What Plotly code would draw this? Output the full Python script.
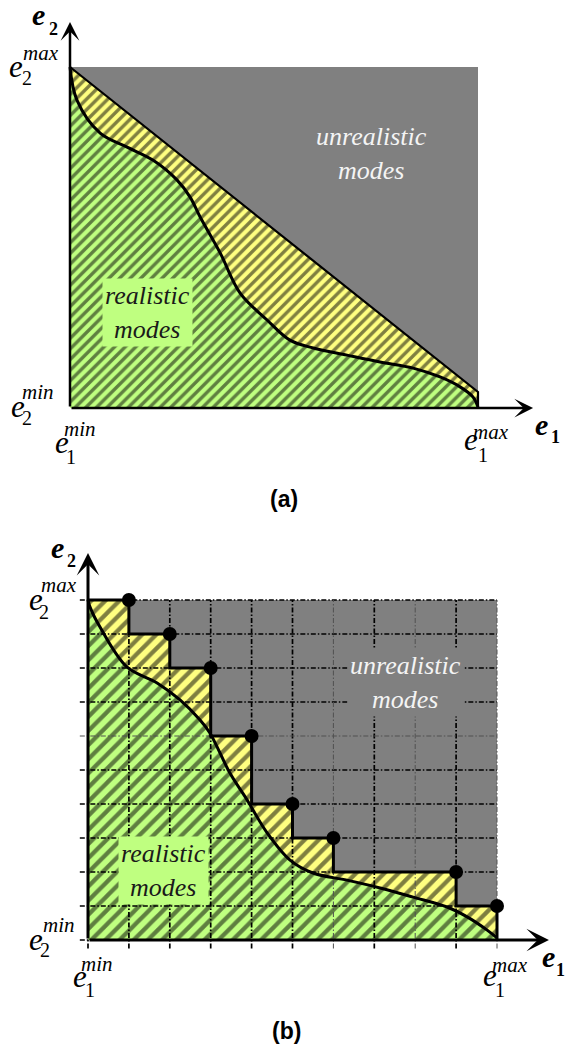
import plotly.graph_objects as go

OFF = 8                    # default body margin of the html page
PW, PH = 574, 1048         # page (window) size
W, H = PW, PH              # figure size (overflow beyond the window is simply not shown)
SERIF = "Liberation Serif"
SANS = "Liberation Sans"
GRAY = "#808080"
YELLOW = "#ffff80"
GREEN = "#bfff80"

# ---------------- data: panel (a)  (normalised e1, e2) ----------------
a_front_x = [0.0, 1.0, 1.0]
a_front_y = [1.0, 0.047, 0.0]
a_curve_x = [0.0, 0.017, 0.074, 0.140, 0.203, 0.262, 0.294, 0.319, 0.368, 0.417,
             0.483, 0.539, 0.596, 0.679, 0.760, 0.841, 0.907, 0.956, 0.988, 1.0]
a_curve_y = [1.0, 0.903, 0.806, 0.765, 0.727, 0.669, 0.619, 0.560, 0.455, 0.337,
             0.258, 0.199, 0.176, 0.155, 0.135, 0.117, 0.091, 0.062, 0.032, 0.003]

# ---------------- data: panel (b)  (grid units) ----------------
b_points_x = [1, 2, 3, 4, 5, 6, 9, 10]
b_points_y = [10, 9, 8, 6, 4, 3, 2, 1]
b_curve_x = [0.0, 0.05, 0.29, 0.95, 1.69, 2.25, 2.74, 2.98, 3.47, 3.89, 4.38, 4.94,
             5.50, 6.33, 7.14, 7.95, 8.78, 9.27, 9.76, 10.0]
b_curve_y = [10.0, 9.79, 9.21, 8.03, 7.56, 7.06, 6.47, 6.09, 4.91, 4.12, 3.15, 2.35,
             1.97, 1.76, 1.53, 1.26, 0.97, 0.68, 0.29, 0.06]
b_grid = list(range(0, 11))
b_grid_gray_x = [6, 8, 10]
b_grid_gray_y = [6]


# ---------------- axis geometry helpers (layout, page pixels) ----------------
def xaxis_cfg(px0, px1, v0, v1):
    px0 -= OFF
    px1 -= OFF
    s = (px1 - px0) / (v1 - v0)
    return dict(domain=[0, 1], range=[v0 + (0 - px0) / s, v0 + (W - px0) / s],
                visible=False, fixedrange=True)


def yaxis_cfg(py0, py1, v0, v1, top, bottom):
    py0 -= OFF
    py1 -= OFF
    top = max(top - OFF, 0)
    bottom = min(bottom - OFF, H)
    s = (py0 - py1) / (v1 - v0)
    return dict(domain=[1 - bottom / H, 1 - top / H],
                range=[v0 - (bottom - py0) / s, v0 + (py0 - top) / s],
                visible=False, fixedrange=True)


fig = go.Figure()

# ---------------- panel (a) ----------------
fig.add_shape(type="rect", x0=0, x1=1, y0=0, y1=1, xref="x", yref="y",
              fillcolor=GRAY, line_width=0, layer="below")
fig.add_trace(go.Scatter(
    x=a_front_x + [0.0], y=a_front_y + [0.0], fill="toself", mode="none",
    fillcolor=YELLOW,
    fillpattern=dict(shape="/", fgcolor="black", bgcolor=YELLOW, size=7.5, solidity=0.45),
    xaxis="x", yaxis="y", hoverinfo="skip"))
fig.add_trace(go.Scatter(
    x=a_curve_x, y=a_curve_y, fill="tozeroy", mode="none", line_shape="spline",
    fillcolor=GREEN,
    fillpattern=dict(shape="/", fgcolor="black", bgcolor=GREEN, size=7.5, solidity=0.45),
    xaxis="x", yaxis="y", hoverinfo="skip"))
fig.add_trace(go.Scatter(x=a_front_x, y=a_front_y, mode="lines",
                         line=dict(color="black", width=2.2), xaxis="x", yaxis="y",
                         hoverinfo="skip"))
fig.add_trace(go.Scatter(x=a_curve_x, y=a_curve_y, mode="lines",
                         line=dict(color="black", width=3, shape="spline"),
                         xaxis="x", yaxis="y", hoverinfo="skip"))

# ---------------- panel (b) ----------------
fig.add_shape(type="rect", x0=0, x1=10, y0=0, y1=10, xref="x2", yref="y2",
              fillcolor=GRAY, line_width=0, layer="below")

step_x, step_y = [0], [b_points_y[0]]
for i, (px, py) in enumerate(zip(b_points_x, b_points_y)):
    nxt = b_points_y[i + 1] if i + 1 < len(b_points_y) else 0
    step_x += [px, px]
    step_y += [py, nxt]

fig.add_trace(go.Scatter(
    x=step_x + [0], y=step_y + [0], fill="toself", mode="none", fillcolor=YELLOW,
    fillpattern=dict(shape="/", fgcolor="black", bgcolor=YELLOW, size=10, solidity=0.42),
    xaxis="x2", yaxis="y2", hoverinfo="skip"))
fig.add_trace(go.Scatter(
    x=b_curve_x, y=b_curve_y, fill="tozeroy", mode="none", line_shape="spline",
    fillcolor=GREEN,
    fillpattern=dict(shape="/", fgcolor="black", bgcolor=GREEN, size=10, solidity=0.42),
    xaxis="x2", yaxis="y2", hoverinfo="skip"))


def grid_xy(xs, ys):
    gx, gy = [], []
    for v in xs:
        gx += [v, v, None]
        gy += [-0.25, 10, None]
    for v in ys:
        gx += [-0.2, 10, None]
        gy += [v, v, None]
    return gx, gy


gx, gy = grid_xy([v for v in b_grid if v not in b_grid_gray_x],
                 [v for v in b_grid if v not in b_grid_gray_y])
fig.add_trace(go.Scatter(x=gx, y=gy, mode="lines",
                         line=dict(color="black", width=1.7, dash="5px,2px,1.5px,2px"),
                         xaxis="x2", yaxis="y2", hoverinfo="skip"))
gx, gy = grid_xy(b_grid_gray_x, b_grid_gray_y)
fig.add_trace(go.Scatter(x=gx, y=gy, mode="lines",
                         line=dict(color="#505050", width=1, dash="5px,2px,1.5px,2px"),
                         xaxis="x2", yaxis="y2", hoverinfo="skip"))

fig.add_trace(go.Scatter(x=step_x, y=step_y, mode="lines",
                         line=dict(color="black", width=3),
                         xaxis="x2", yaxis="y2", hoverinfo="skip"))
fig.add_trace(go.Scatter(x=b_curve_x, y=b_curve_y, mode="lines",
                         line=dict(color="black", width=3, shape="spline"),
                         xaxis="x2", yaxis="y2", hoverinfo="skip"))
fig.add_trace(go.Scatter(x=b_points_x, y=b_points_y, mode="markers",
                         marker=dict(color="black", size=14),
                         xaxis="x2", yaxis="y2", hoverinfo="skip"))


# ---------------- axes arrows ----------------
def arrow(xr, yr, x, y, w):
    return dict(x=x, y=y, ax=0, ay=0, xref=xr, yref=yr, axref=xr, ayref=yr,
                showarrow=True, arrowhead=3, arrowsize=1.25, arrowwidth=w,
                arrowcolor="black", text="", standoff=0, startstandoff=0)


anns = [
    arrow("x", "y", 0, 1.132, 2.5), arrow("x", "y", 1.135, 0, 2.5),
    arrow("x2", "y2", 0, 11.38, 3), arrow("x2", "y2", 11.27, 0, 3),
]


# ---------------- text labels (page pixel placement) ----------------
def lab(text, px, py, size, family=SERIF, color="black", bg=None, xh=False):
    if xh:
        py -= 0.11 * size
    px -= OFF
    py -= OFF
    d = dict(text=text, x=px / W, y=1 - py / H, xref="paper", yref="paper",
             showarrow=False, xanchor="center", yanchor="middle",
             font=dict(family=family, size=size, color=color))
    if bg:
        d.update(bgcolor=bg, borderpad=2)
    return d


E = 31
SUB = 20
SUP = 21
labels = [
    ((16, 70), ("2", 26.5, 78), ("max", 41, 55)),
    ((18, 410), ("2", 27, 418), ("min", 38, 394)),
    ((62, 446), ("1", 71, 457), ("min", 80, 431)),
    ((471, 443), ("1", 483, 455), ("max", 491, 434)),
    ((36, 603), ("2", 44, 612), ("max", 59, 587)),
    ((36, 943), ("2", 45, 950), ("min", 59, 927)),
    ((80, 980), ("1", 90, 990), ("min", 97, 966)),
    ((490, 979), ("1", 500, 990), ("max", 510, 967)),
]
for (ex, ey), (st, sx, sy), (pt, qx, qy) in labels:
    anns.append(lab("<i>e</i>", ex, ey, E, xh=True))
    anns.append(lab(st, sx, sy, SUB))
    anns.append(lab("<i>" + pt + "</i>", qx, qy, SUP, xh=True))

axis_labels = [((38.5, 18), ("2", 53, 29)), ((541, 428), ("1", 555, 437)),
               ((548, 960), ("1", 560, 970)), ((57, 551), ("2", 71, 561))]
for (ex, ey), (st, sx, sy) in axis_labels:
    anns.append(lab("<b><i>e</i></b>", ex, ey, 30, xh=True))
    anns.append(lab("<b>" + st + "</b>", sx, sy, 18))

anns += [
    lab("<i>unrealistic<br>modes</i>", 371, 154, 26, color="#f4f4f4"),
    lab("<i>unrealistic<br>modes</i>", 405, 682, 26, color="#f4f4f4", bg=GRAY),
    lab("<i>realistic<br>modes</i>", 147, 312, 26, color="#1a1a1a", bg=GREEN),
    lab("<i>realistic<br>modes</i>", 163, 870, 26, color="#1a1a1a", bg=GREEN),
    lab("<b>(a)</b>", 284, 499, 23, family=SANS),
    lab("<b>(b)</b>", 286, 1031, 23, family=SANS),
]

fig.update_layout(
    width=W, height=H, margin=dict(l=0, r=0, t=0, b=0),
    paper_bgcolor="white", plot_bgcolor="white", showlegend=False,
    xaxis=xaxis_cfg(70, 478, 0, 1),
    yaxis=yaxis_cfg(408, 67, 0, 1, 0, 500),
    xaxis2=dict(xaxis_cfg(88, 497, 0, 10), anchor="y2"),
    yaxis2=dict(yaxis_cfg(940, 600, 0, 10, 500, PH + OFF), anchor="x2"),
    annotations=anns,
)

fig.write_html("out.html")
